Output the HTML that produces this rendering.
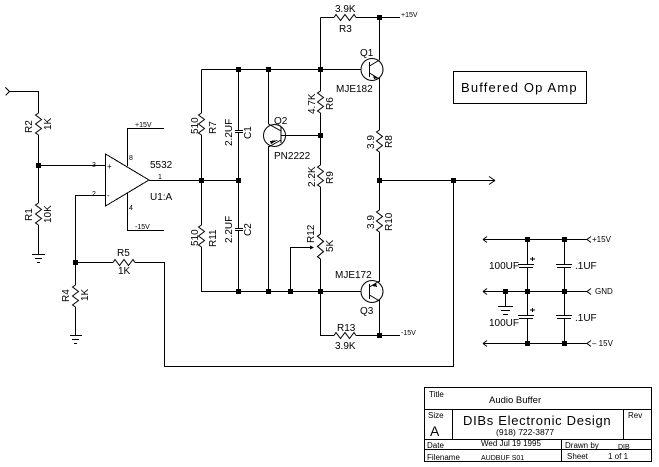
<!DOCTYPE html>
<html><head><meta charset="utf-8"><style>
html,body{margin:0;padding:0;background:#fff}
svg{display:block}
text{font-family:"Liberation Sans",sans-serif;fill:#000}
.w{fill:none;stroke:#000;stroke-width:1}
</style></head><body>
<svg width="659" height="467" viewBox="0 0 659 467" xmlns="http://www.w3.org/2000/svg" shape-rendering="crispEdges">
<defs>
<path id="rh" d="M0 0l2-3 4.500 6 4.500-6 4.500 6 4.500-6 2 3" class="w" shape-rendering="auto"/>
<path id="rv" d="M0 0l-3 2 6 4.500-6 4.500 6 4.500-6 4.500 3 2" class="w" shape-rendering="auto"/>
</defs>
<g class="w">
<path d="M5.500 87.500l4 4-4 4M9.500 91.500H38.500V113M38.500 135V203M38.500 165.500H105.500M38.500 225V254M32 254.500H45M35 258.500H42M37 262.500H40"/>
<path d="M105.500 154V206L149 180ZM127.500 166V128.500H164M127.500 193V230.500H164M149 180.500H238.500"/>
<path d="M105 195.500H75.500V285M75.500 262.500H113M135 262.500H164.500V366.500H453.500V180.500M70 335.500H82M72 339.500H79M74 343.500H77M75.500 307V335"/>
<path d="M201.500 69.500H361M201.500 69.500V113M201.500 135V225M201.500 247V291.500H361M238.500 69.500V130M238.500 133V228M238.500 231V291.500M235 130.500H243M235 132.500H243M235 228.500H243M235 230.500H243"/>
<path d="M268.500 69.500V124M268.500 146V291.500M281 135.500H320.500"/>
<path d="M320.500 17.500V91M320.500 113V165M320.500 187V234M320.500 259V335.500H334M320.500 17.500H334M356 17.500H400M356 335.500H400M379.500 17.500V60M379.500 78V130M379.500 152V210M379.500 232V282M379.500 300V335.500M379.500 180.500H495"/>
<path d="M290.500 291.500V247.500H312"/>
</g>
<use href="#rv" x="38.500" y="113"/><use href="#rv" x="38.500" y="203"/><use href="#rv" x="75.500" y="285"/>
<use href="#rv" x="201.500" y="113"/><use href="#rv" x="201.500" y="225"/>
<use href="#rv" x="320.500" y="91"/><use href="#rv" x="320.500" y="165"/>
<use href="#rv" transform="translate(320.500,234) scale(1,1.136)"/>
<use href="#rv" x="379.500" y="130"/><use href="#rv" x="379.500" y="210"/>
<use href="#rh" x="113" y="262.500"/><use href="#rh" x="334" y="17.500"/><use href="#rh" x="334" y="335.500"/>
<!-- transistors -->
<g class="w" shape-rendering="auto">
<circle cx="372" cy="69.500" r="11"/><circle cx="274.500" cy="135.500" r="11"/><circle cx="372" cy="291.500" r="11"/>
<path d="M369.500 62V77M369.500 66L379.500 60M369.500 73L379.500 79"/>
<path d="M281 127V143M281 131L268.500 124M281 140L268.500 147"/>
<path d="M369.500 284V299M369.500 287L379.500 281M369.500 295L379.500 301"/>
<path d="M495 180.500l-6-4M495 180.500l-6 4M483 239.500H587M483 291.500H587M483 343.500H587M483 239.500l4-3M483 239.500l4 3M483 291.500l4-3M483 291.500l4 3M483 343.500l4-3M483 343.500l4 3M591 236.500l-4 3 4 3M591 288.500l-4 3 4 3M591 340.500l-4 3 4 3"/>
</g>
<path d="M373 75l5 3-4 1zM278 140l-7 4-1-3zM372 286l4-3 1 4zM314 247.500l-4-2v4z" fill="#000"/>
<!-- supply decoupling -->
<g class="w">
<path d="M527.500 239.500V264M527.500 268V315M527.500 319V343.500M564.500 239.500V264M564.500 268V315M564.500 319V343.500M518 264.500H534M519 267.500H533M518 315.500H534M519 318.500H533M556 264.500H572M557 267.500H571M556 315.500H572M557 318.500H571"/>
<path d="M505.500 291.500V306M498 306.500H513M501 310.500H510M503 314.500H508"/>
<path d="M530 259H535M532.500 257V261M530 310H535M532.500 308V312"/>
</g>
<!-- junctions -->
<g fill="#000">
<rect x="36" y="163" width="5" height="5"/><rect x="73" y="260" width="5" height="5"/>
<rect x="199" y="178" width="5" height="5"/><rect x="236" y="178" width="5" height="5"/>
<rect x="236" y="67" width="5" height="5"/><rect x="266" y="67" width="5" height="5"/><rect x="318" y="67" width="5" height="5"/>
<rect x="377" y="15" width="5" height="5"/><rect x="318" y="133" width="5" height="5"/>
<rect x="377" y="178" width="5" height="5"/><rect x="451" y="178" width="5" height="5"/>
<rect x="236" y="289" width="5" height="5"/><rect x="266" y="289" width="5" height="5"/><rect x="288" y="289" width="5" height="5"/><rect x="318" y="289" width="5" height="5"/>
<rect x="377" y="333" width="5" height="5"/>
<rect x="525" y="237" width="5" height="5"/><rect x="562" y="237" width="5" height="5"/>
<rect x="503" y="289" width="5" height="5"/><rect x="525" y="289" width="5" height="5"/><rect x="562" y="289" width="5" height="5"/>
<rect x="525" y="341" width="5" height="5"/><rect x="562" y="341" width="5" height="5"/>
</g>
<!-- labels -->
<g font-size="9">
<text x="150" y="168" font-size="10">5532</text><text x="150" y="200" font-size="10">U1:A</text>
<text x="92" y="167" font-size="7">3</text><text x="92" y="196" font-size="7">2</text><text x="129" y="160" font-size="7">8</text><text x="129" y="210" font-size="7">4</text><text x="158" y="179" font-size="7">1</text>
<text x="107" y="169" font-size="8">+</text><text x="107" y="198" font-size="8">-</text>
<text x="135" y="127" font-size="7">+15V</text><text x="135" y="229" font-size="7">-15V</text>
<text x="335" y="12" font-size="10">3.9K</text><text x="339" y="32" font-size="10">R3</text>
<text x="401" y="17" font-size="7">+15V</text><text x="401" y="335" font-size="7">-15V</text>
<text x="360" y="56" font-size="10">Q1</text><text x="336" y="92" font-size="10">MJE182</text>
<text x="274" y="124" font-size="10">Q2</text><text x="274" y="159" font-size="10">PN2222</text>
<text x="335" y="278" font-size="10">MJE172</text><text x="360" y="314" font-size="10">Q3</text>
<text x="337" y="331" font-size="10">R13</text><text x="335" y="349" font-size="10">3.9K</text>
<text x="117" y="256" font-size="10">R5</text><text x="118" y="274" font-size="10">1K</text>
<text transform="translate(32,133) rotate(-90)" font-size="10">R2</text><text transform="translate(51,130) rotate(-90)" font-size="10">1K</text>
<text transform="translate(32,221) rotate(-90)" font-size="10">R1</text><text transform="translate(51,223) rotate(-90)" font-size="10">10K</text>
<text transform="translate(69,302) rotate(-90)" font-size="10">R4</text><text transform="translate(88,301) rotate(-90)" font-size="10">1K</text>
<text transform="translate(198,134) rotate(-90)" font-size="10">510</text><text transform="translate(216,134) rotate(-90)" font-size="10">R7</text>
<text transform="translate(198,246) rotate(-90)" font-size="10">510</text><text transform="translate(216,247) rotate(-90)" font-size="10">R11</text>
<text transform="translate(232,146) rotate(-90)" font-size="10">2.2UF</text><text transform="translate(251,139) rotate(-90)" font-size="10">C1</text>
<text transform="translate(232,243) rotate(-90)" font-size="10">2.2UF</text><text transform="translate(251,236) rotate(-90)" font-size="10">C2</text>
<text transform="translate(315,114) rotate(-90)" font-size="10">4.7K</text><text transform="translate(333,110) rotate(-90)" font-size="10">R6</text>
<text transform="translate(315,187) rotate(-90)" font-size="10">2.2K</text><text transform="translate(333,184) rotate(-90)" font-size="10">R9</text>
<text transform="translate(314,243) rotate(-90)" font-size="10">R12</text><text transform="translate(333,252) rotate(-90)" font-size="10">5K</text>
<text transform="translate(374,149) rotate(-90)" font-size="10">3.9</text><text transform="translate(392,148) rotate(-90)" font-size="10">R8</text>
<text transform="translate(374,229) rotate(-90)" font-size="10">3.9</text><text transform="translate(392,231) rotate(-90)" font-size="10">R10</text>
<text x="489" y="269" font-size="10">100UF</text><text x="489" y="326" font-size="10">100UF</text>
<text x="575" y="269" font-size="10">.1UF</text><text x="575" y="321" font-size="10">.1UF</text>
<text x="592" y="242" font-size="8">+15V</text><text x="595" y="294" font-size="8">GND</text><text x="592" y="346" font-size="8">– 15V</text>
</g>
<rect x="453.500" y="71.500" width="133" height="32" class="w"/>
<text x="461" y="92" font-size="13" letter-spacing="1.150">Buffered Op Amp</text>
<!-- title block -->
<g class="w">
<rect x="424.500" y="387.500" width="227" height="74"/>
<path d="M424 409.500H652M424 439.500H652M424 449.500H652M452.500 409V439M623.500 409V439M561.500 439V462"/>
</g>
<text x="429" y="397" font-size="8">Title</text>
<text x="489" y="403" font-size="9.500">Audio Buffer</text>
<text x="428" y="418" font-size="8">Size</text><text x="430" y="436" font-size="14">A</text>
<text x="463" y="425" font-size="13" letter-spacing=".7">DIBs Electronic Design</text>
<text x="496" y="435" font-size="8.500">(918) 722-3877</text>
<text x="628" y="418" font-size="8">Rev</text>
<text x="427" y="448" font-size="8">Date</text><text x="481" y="446" font-size="8">Wed Jul 19 1995</text>
<text x="565" y="448" font-size="8">Drawn by</text><text x="618" y="449" font-size="7">DIB</text>
<text x="427" y="460" font-size="8">Filename</text><text x="481" y="460" font-size="7">AUDBUF S01</text>
<text x="567" y="459" font-size="8">Sheet</text><text x="608" y="459" font-size="8">1 of 1</text>
</svg>
</body></html>
